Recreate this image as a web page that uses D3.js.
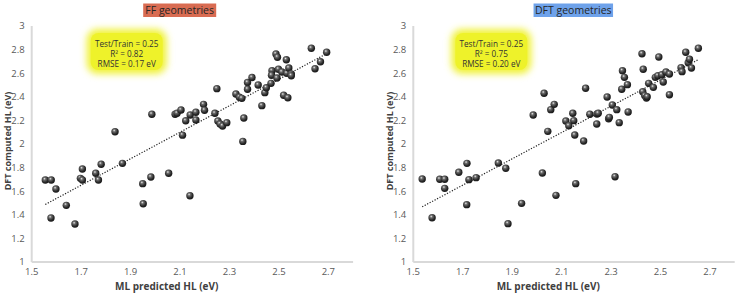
<!DOCTYPE html>
<html>
<head>
<meta charset="utf-8">
<script src="https://cdn.jsdelivr.net/npm/d3@7"></script>
<style>
  body { margin: 0; background: #fff; }
  svg { display: block; font-family: 'Open Sans', sans-serif; }
</style>
</head>
<body>
<svg id="chart" width="738" height="293"></svg>
<script>
// FF geometries: [ML predicted, DFT computed]
const ffPoints = [
  [1.555, 1.695], [1.579, 1.695], [1.598, 1.619], [1.578, 1.373], [1.640, 1.480],
  [1.675, 1.322], [1.697, 1.709], [1.705, 1.695], [1.705, 1.788], [1.759, 1.752],
  [1.770, 1.695], [1.781, 1.828], [1.837, 2.104], [1.867, 1.836], [1.949, 1.664],
  [1.951, 1.494], [1.982, 1.720], [2.054, 1.752], [2.140, 1.562], [1.986, 2.252],
  [2.080, 2.252], [2.088, 2.260], [2.104, 2.288], [2.110, 2.075], [2.123, 2.197],
  [2.141, 2.246], [2.164, 2.269], [2.164, 2.203], [2.195, 2.336], [2.199, 2.286],
  [2.241, 2.260], [2.249, 2.469], [2.253, 2.195], [2.262, 2.169], [2.272, 2.153],
  [2.289, 2.181], [2.326, 2.424], [2.340, 2.396], [2.350, 2.387], [2.358, 2.220],
  [2.354, 2.022], [2.373, 2.521], [2.373, 2.464], [2.391, 2.563], [2.416, 2.500],
  [2.431, 2.325], [2.443, 2.435], [2.449, 2.477], [2.468, 2.514], [2.472, 2.621],
  [2.470, 2.582], [2.488, 2.763], [2.494, 2.735], [2.492, 2.559], [2.498, 2.633],
  [2.512, 2.610], [2.519, 2.413], [2.530, 2.714], [2.532, 2.599], [2.536, 2.392],
  [2.540, 2.644], [2.550, 2.593], [2.550, 2.579], [2.631, 2.811], [2.646, 2.638],
  [2.668, 2.697], [2.693, 2.777]
];

// DFT geometries: [ML predicted, DFT computed]
const dftPoints = [
  [1.536, 1.703], [1.576, 1.375], [1.607, 1.701], [1.627, 1.701], [1.627, 1.624],
  [1.684, 1.760], [1.717, 1.836], [1.716, 1.486], [1.725, 1.698], [1.754, 1.715],
  [1.844, 1.839], [1.874, 1.794], [1.883, 1.325], [1.938, 1.497], [2.022, 1.754],
  [2.077, 1.565], [2.157, 1.664], [2.316, 1.723], [1.985, 2.246], [2.029, 2.430],
  [2.044, 2.107], [2.056, 2.291], [2.070, 2.336], [2.117, 2.195], [2.129, 2.155],
  [2.145, 2.260], [2.149, 2.198], [2.153, 2.076], [2.189, 2.025], [2.197, 2.472],
  [2.214, 2.252], [2.242, 2.169], [2.243, 2.254], [2.248, 2.260], [2.284, 2.398],
  [2.290, 2.214], [2.293, 2.226], [2.305, 2.331], [2.323, 2.291], [2.333, 2.181],
  [2.343, 2.464], [2.346, 2.621], [2.354, 2.565], [2.366, 2.503], [2.369, 2.271],
  [2.425, 2.765], [2.430, 2.633], [2.428, 2.443], [2.436, 2.410], [2.443, 2.390],
  [2.446, 2.400], [2.452, 2.514], [2.471, 2.480], [2.479, 2.565], [2.489, 2.579],
  [2.493, 2.737], [2.505, 2.587], [2.511, 2.525], [2.522, 2.610], [2.536, 2.593],
  [2.536, 2.418], [2.583, 2.647], [2.587, 2.613], [2.602, 2.777], [2.612, 2.689],
  [2.617, 2.718], [2.625, 2.644], [2.653, 2.811]
];

const xTicks = [1.5, 1.7, 1.9, 2.1, 2.3, 2.5, 2.7];
const yTicks = [1, 1.2, 1.4, 1.6, 1.8, 2, 2.2, 2.4, 2.6, 2.8, 3];
const titles = ['FF geometries', 'DFT geometries'];
const statsFF = ['Test/Train = 0.25', 'R² = 0.82', 'RMSE = 0.17 eV'];
const statsDFT = ['Test/Train = 0.25', 'R² = 0.75', 'RMSE = 0.20 eV'];

const svg = d3.select('#chart');
const defs = svg.append('defs');

const grad = defs.append('radialGradient')
  .attr('id', 'ball')
  .attr('cx', '42%').attr('cy', '38%').attr('r', '62%')
  .attr('fx', '38%').attr('fy', '32%');
grad.append('stop').attr('offset', '0%').attr('stop-color', '#eeeeee');
grad.append('stop').attr('offset', '28%').attr('stop-color', '#6e6e6e');
grad.append('stop').attr('offset', '72%').attr('stop-color', '#2a2a2a');
grad.append('stop').attr('offset', '100%').attr('stop-color', '#161616');

defs.append('filter').attr('id', 'glow')
  .attr('x', '-30%').attr('y', '-40%').attr('width', '160%').attr('height', '180%')
  .append('feGaussianBlur').attr('stdDeviation', 3.5);

// least squares fit, drawn from min x to max x like excel's trendline
function fit(pts) {
  const mx = d3.mean(pts, d => d[0]);
  const my = d3.mean(pts, d => d[1]);
  let sxy = 0, sxx = 0;
  pts.forEach(d => { sxy += (d[0] - mx) * (d[1] - my); sxx += (d[0] - mx) ** 2; });
  const b = sxy / sxx;
  const a = my - b * mx;
  const [x0, x1] = d3.extent(pts, d => d[0]);
  return [[x0, a + b * x0], [x1, a + b * x1]];
}

function drawPanel(left, data, title, titleColor, stats, box) {
  const x = d3.scaleLinear().domain([1.5, 2.8]).range([left, left + 321.4]);
  const y = d3.scaleLinear().domain([1, 3]).range([262, 26]);
  const g = svg.append('g');

  // axis lines
  g.append('line')
    .attr('x1', x(1.5)).attr('x2', x(1.5)).attr('y1', y(3)).attr('y2', y(1))
    .attr('stroke', '#d9d9d9').attr('stroke-width', 2);
  g.append('line')
    .attr('x1', x(1.5)).attr('x2', x(2.8)).attr('y1', y(1)).attr('y2', y(1))
    .attr('stroke', '#d9d9d9').attr('stroke-width', 2);

  g.selectAll('.ytick')
    .data(yTicks)
    .enter().append('text')
    .attr('x', x(1.5) - 7)
    .attr('y', d => y(d))
    .attr('dy', '0.35em')
    .attr('text-anchor', 'end')
    .style('font-size', '9.5px')
    .style('fill', '#595959')
    .text(d => d);

  g.selectAll('.xtick')
    .data(xTicks)
    .enter().append('text')
    .attr('x', d => x(d))
    .attr('y', 275)
    .attr('text-anchor', 'middle')
    .style('font-size', '9.5px')
    .style('fill', '#595959')
    .text(d => d);

  g.append('text')
    .attr('x', x(1.5) + 135)
    .attr('y', 290)
    .attr('text-anchor', 'middle')
    .style('font-size', '10px')
    .style('font-weight', 'bold')
    .style('fill', '#404040')
    .text('ML predicted HL (eV)');

  g.append('text')
    .attr('transform', `translate(${x(1.5) - 20.5},141) rotate(-90)`)
    .attr('text-anchor', 'middle')
    .style('font-size', '9px')
    .style('font-weight', 'bold')
    .style('fill', '#404040')
    .text('DFT computed HL (eV)');

  // title tag
  const tcx = x(1.5) + box.titleX;
  g.append('rect')
    .attr('x', tcx - box.titleW / 2).attr('y', 3.5)
    .attr('width', box.titleW).attr('height', 13.5)
    .attr('fill', titleColor);
  g.append('text')
    .attr('x', tcx).attr('y', 14)
    .attr('text-anchor', 'middle')
    .style('font-size', '10.5px')
    .style('fill', '#262626')
    .text(title);

  // yellow stats box
  g.append('rect')
    .attr('x', x(1.5) + box.statsX).attr('y', 29)
    .attr('width', 80).attr('height', 45).attr('rx', 11)
    .attr('fill', '#f0f23a')
    .attr('filter', 'url(#glow)');
  g.append('rect')
    .attr('x', x(1.5) + box.statsX + 4).attr('y', 33)
    .attr('width', 72).attr('height', 37).attr('rx', 8)
    .attr('fill', '#eef22a');
  g.selectAll('.stat')
    .data(stats)
    .enter().append('text')
    .attr('x', x(1.5) + box.statsX + 40)
    .attr('y', (d, i) => 46.5 + i * 10)
    .attr('text-anchor', 'middle')
    .style('font-size', '8.2px')
    .style('fill', '#333')
    .text(d => d);

  // trendline
  const line = d3.line().x(d => x(d[0])).y(d => y(d[1]));
  g.append('path')
    .attr('d', line(fit(data)))
    .attr('fill', 'none')
    .attr('stroke', '#222')
    .attr('stroke-width', 1.2)
    .attr('stroke-dasharray', '1.2,1.6');

  g.selectAll('.pt')
    .data(data)
    .enter().append('circle')
    .attr('cx', d => x(d[0]))
    .attr('cy', d => y(d[1]))
    .attr('r', 3.7)
    .attr('fill', 'url(#ball)');
}

drawPanel(31.7, ffPoints, titles[0], '#d96c52', statsFF,
  { titleX: 148, titleW: 73, statsX: 55 });
drawPanel(413.3, dftPoints, titles[1], '#6ea2ea', statsDFT,
  { titleX: 160, titleW: 79.5, statsX: 38 });
</script>
</body>
</html>
